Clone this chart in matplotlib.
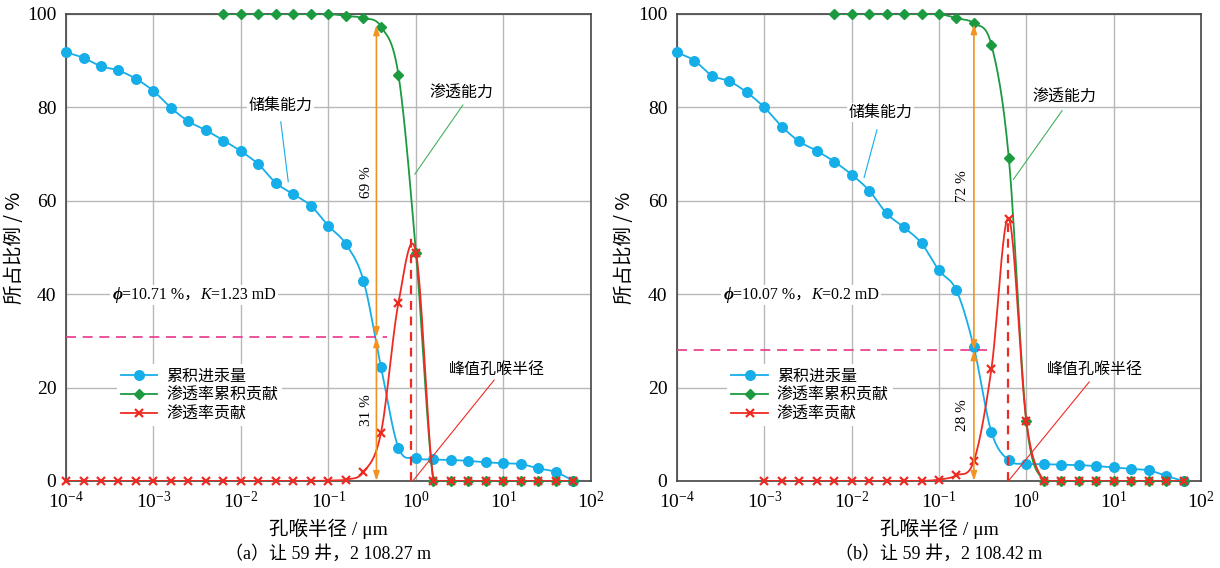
import numpy as np
import matplotlib
matplotlib.use('Agg')
import matplotlib.pyplot as plt
from matplotlib.lines import Line2D
from matplotlib.offsetbox import TextArea, HPacker, AnnotationBbox

FAM = ['Liberation Serif', 'DejaVu Serif', 'Noto Sans CJK SC']
CJK = ['Noto Sans CJK SC', 'DejaVu Sans']
plt.rcParams['font.family'] = FAM
plt.rcParams['mathtext.fontset'] = 'custom'
plt.rcParams['mathtext.rm'] = 'Liberation Serif'
plt.rcParams['mathtext.it'] = 'Liberation Serif:italic'

# pore-throat radius (um), one point every 0.2 decade
radius = [1.0e-4, 1.585e-4, 2.512e-4, 3.981e-4, 6.310e-4,
          1.0e-3, 1.585e-3, 2.512e-3, 3.981e-3, 6.310e-3,
          1.0e-2, 1.585e-2, 2.512e-2, 3.981e-2, 6.310e-2,
          0.1, 0.1585, 0.2512, 0.3981, 0.6310,
          1.0, 1.585, 2.512, 3.981, 6.310,
          10.0, 15.85, 25.12, 39.81, 63.10]
xticks = [1e-4, 1e-3, 1e-2, 1e-1, 1e0, 1e1, 1e2]
yticks = [0, 20, 40, 60, 80, 100]

# (a) 2108.27 m
hg_a = [91.8, 90.6, 88.8, 87.9, 86.1, 83.5, 79.9, 77.0, 75.1, 72.9,
        70.6, 67.8, 63.8, 61.4, 58.9, 54.6, 50.7, 42.9, 24.4, 7.1,
        4.9, 4.6, 4.5, 4.3, 4.0, 3.8, 3.6, 2.7, 1.9, 0.0]
kcum_a = [100, 100, 100, 100, 100, 100, 100, 99.6, 99.1, 97.3, 86.9, 48.9,
          0, 0, 0, 0, 0, 0, 0, 0, 0]          # from radius[9]
kcon_a = [0, 0, 0, 0, 0, 0, 0, 0, 0, 0, 0, 0, 0, 0, 0,
          0.1, 0.3, 1.9, 10.3, 38.2, 48.9,
          0, 0, 0, 0, 0, 0, 0, 0, 0]

# (b) 2108.42 m
hg_b = [91.8, 90.0, 86.8, 85.6, 83.2, 80.0, 75.9, 72.7, 70.7, 68.4,
        65.6, 62.2, 57.3, 54.3, 50.9, 45.1, 40.8, 28.6, 10.5, 4.4,
        3.7, 3.6, 3.5, 3.4, 3.2, 2.9, 2.6, 2.3, 1.1, 0.0]
kcum_b = [100, 100, 100, 100, 100, 100, 100, 99.1, 98.0, 93.4, 69.1, 12.9,
          0, 0, 0, 0, 0, 0, 0, 0, 0]          # from radius[9]
kcon_b = [0, 0, 0, 0, 0, 0, 0, 0, 0, 0,
          0.3, 1.2, 4.3, 23.9, 56.2, 12.9,
          0, 0, 0, 0, 0, 0, 0, 0, 0]          # from radius[5]

BLUE = '#15aee8'
GREEN = '#1b9a3f'
RED = '#ee2b22'
ORANGE = '#f29322'
PINK = '#e8358a'


def smooth(x, y, n=24):
    # Catmull-Rom through the points, in log-x
    lx = np.log10(x)
    y = np.asarray(y, float)
    m = np.gradient(y)
    t = np.linspace(0, 1, n, endpoint=False)
    h00 = 2 * t**3 - 3 * t**2 + 1
    h10 = t**3 - 2 * t**2 + t
    h01 = -2 * t**3 + 3 * t**2
    h11 = t**3 - t**2
    xs, ys = [], []
    for i in range(len(y) - 1):
        xs.append(lx[i] + t * (lx[i + 1] - lx[i]))
        ys.append(h00 * y[i] + h10 * m[i] + h01 * y[i + 1] + h11 * m[i + 1])
    xs.append([lx[-1]])
    ys.append([y[-1]])
    return 10 ** np.concatenate(xs), np.clip(np.concatenate(ys), 0, 100)


def panel(ax, hg, kcum, kcon, kcon_start, cut, split, top, peak_x, peak_y,
          pct_hi, pct_lo, phi, perm, lead_store, lead_perm, lead_peak):
    r = np.array(radius)
    # curves
    for x, y, c, mk, ms, z in [(r, hg, BLUE, 'o', 6.9, 3),
                               (r[9:], kcum, GREEN, 'D', 5.3, 4),
                               (r[kcon_start:], kcon, RED, 'x', 6.2, 5)]:
        sx, sy = smooth(x, y)
        ax.plot(sx, sy, color=c, lw=1.3, zorder=z)
        ax.plot(x, y, ls='none', marker=mk, ms=ms, color=c, mec=c,
                mew=1.6 if mk == 'x' else 1, zorder=z, clip_on=False)

    # split of cumulative contribution
    ax.plot([1e-4, split[1]], [split[0], split[0]], color=PINK, lw=1.2,
            dashes=(6, 4), zorder=6)
    arw = dict(arrowstyle='<|-|>,head_length=0.55,head_width=0.18',
               color=ORANGE, lw=1.2, shrinkA=0, shrinkB=0)
    ax.annotate('', xy=(cut, top), xytext=(cut, split[0]), arrowprops=arw, zorder=6)
    ax.annotate('', xy=(cut, split[0]), xytext=(cut, 0), arrowprops=arw, zorder=6)
    ax.text(pct_hi[0], pct_hi[1], pct_hi[2], rotation=90, ha='center',
            va='center', fontsize=11)
    ax.text(pct_lo[0], pct_lo[1], pct_lo[2], rotation=90, ha='center',
            va='center', fontsize=11)

    # peak radius
    ax.plot([peak_x, peak_x], [0, peak_y], color=RED, lw=1.6, dashes=(4, 3),
            zorder=6)

    # labels with leaders
    box = dict(fc='white', ec='none', pad=1)
    ax.text(*lead_store[0], '储集能力', family=CJK, fontsize=11.5,
            ha='center', va='center', bbox=box, zorder=7)
    ax.plot(*lead_store[1], color=BLUE, lw=0.8, zorder=7)
    ax.text(*lead_perm[0], '渗透能力', family=CJK, fontsize=11.5,
            ha='center', va='center', zorder=7)
    ax.plot(*lead_perm[1], color='#46b060', lw=0.8, zorder=7)
    ax.text(*lead_peak[0], '峰值孔喉半径', family=CJK, fontsize=11.5,
            ha='center', va='center', zorder=7)
    ax.plot(*lead_peak[1], color=RED, lw=0.8, zorder=7)

    # porosity / permeability
    tp = dict(family=FAM, fontsize=11.5)
    parts = [TextArea('ϕ', textprops=dict(family=FAM, fontsize=12.5,
                                           fontweight='bold', fontstyle='italic')),
             TextArea('=' + phi + ' %，', textprops=tp),
             TextArea('K', textprops=dict(family=FAM, fontsize=11.5,
                                          fontstyle='italic')),
             TextArea('=' + perm + ' mD', textprops=tp)]
    pack = HPacker(children=parts, align='baseline', pad=0, sep=0)
    ab = AnnotationBbox(pack, (10 ** -3.47, 39.8), xycoords='data',
                        box_alignment=(0, 0.5), frameon=True, pad=0.15,
                        bboxprops=dict(fc='white', ec='none'), zorder=7)
    ax.add_artist(ab)

    # legend
    handles = [Line2D([], [], color=BLUE, marker='o', ms=6.9, lw=1.3),
               Line2D([], [], color=GREEN, marker='D', ms=5.3, lw=1.3),
               Line2D([], [], color=RED, marker='x', ms=6.2, mew=1.6, lw=1.3)]
    ax.legend(handles, ['累积进汞量', '渗透率累积贡献', '渗透率贡献'],
              prop=dict(family=CJK, size=11.5), loc='center left',
              bbox_to_anchor=(0.081, 0.184), frameon=True, facecolor='white',
              edgecolor='none', framealpha=1, fancybox=False, borderpad=0.25,
              labelspacing=0.12, handlelength=2.3, handletextpad=0.55)

    # axes
    ax.set_xscale('log')
    ax.set_xlim(1e-4, 1e2)
    ax.set_ylim(0, 100)
    ax.set_xticks(xticks)
    ax.set_yticks(yticks)
    ax.minorticks_off()
    ax.grid(True, color='#b8b8b8', lw=1.0)
    ax.set_axisbelow(True)
    ax.tick_params(length=0, labelsize=14, pad=7)
    for s in ax.spines.values():
        s.set_color('#444444')
        s.set_linewidth(1.2)
    ax.set_xlabel('孔喉半径 / μm', fontsize=14, labelpad=5)
    ax.set_ylabel('所占比例 / %', fontsize=14, family=CJK)


fig = plt.figure(figsize=(12.2, 5.68), dpi=100)
ax1 = fig.add_axes([0.0541, 0.1532, 0.4303, 0.8222])
ax2 = fig.add_axes([0.5549, 0.1532, 0.4295, 0.8222])

panel(ax1, hg_a, kcum_a, kcon_a, 0, cut=10 ** -0.452, split=(30.8, 10 ** -0.33),
      top=97.6, peak_x=10 ** -0.058, peak_y=52,
      pct_hi=(10 ** -0.571, 64.1, '69 %'), pct_lo=(10 ** -0.571, 15.1, '31 %'),
      phi='10.71', perm='1.23',
      lead_store=((10 ** -1.55, 80.4), ([10 ** -1.545, 10 ** -1.46], [76.9, 64.1])),
      lead_perm=((10 ** 0.522, 83.0), ([10 ** 0.536, 10 ** -0.013], [80.5, 65.7])),
      lead_peak=((10 ** 0.924, 23.9), ([10 ** 0.893, 10 ** -0.036], [21.6, 0])))

panel(ax2, hg_b, kcum_b, kcon_b, 5, cut=10 ** -0.6, split=(28.0, 10 ** -0.43),
      top=97.8, peak_x=10 ** -0.205, peak_y=56,
      pct_hi=(10 ** -0.728, 63.2, '72 %'), pct_lo=(10 ** -0.728, 14.1, '28 %'),
      phi='10.07', perm='0.2',
      lead_store=((10 ** -1.67, 78.9), ([10 ** -1.71, 10 ** -1.857], [75.2, 65.0])),
      lead_perm=((10 ** 0.433, 82.1), ([10 ** 0.41, 10 ** -0.147], [79.3, 64.6])),
      lead_peak=((10 ** 0.79, 23.9), ([10 ** 0.72, 10 ** -0.205], [21.2, 0])))

ax1.yaxis.set_label_coords(-0.078, 0.5)
ax2.yaxis.set_label_coords(-0.080, 0.5)

fig.text(0.2693, 0.024, '（a）让 59 井，2 108.27 m', ha='center', va='center',
         fontsize=13)
fig.text(0.7697, 0.024, '（b）让 59 井，2 108.42 m', ha='center', va='center',
         fontsize=13)

fig.savefig('out.png', dpi=100)
